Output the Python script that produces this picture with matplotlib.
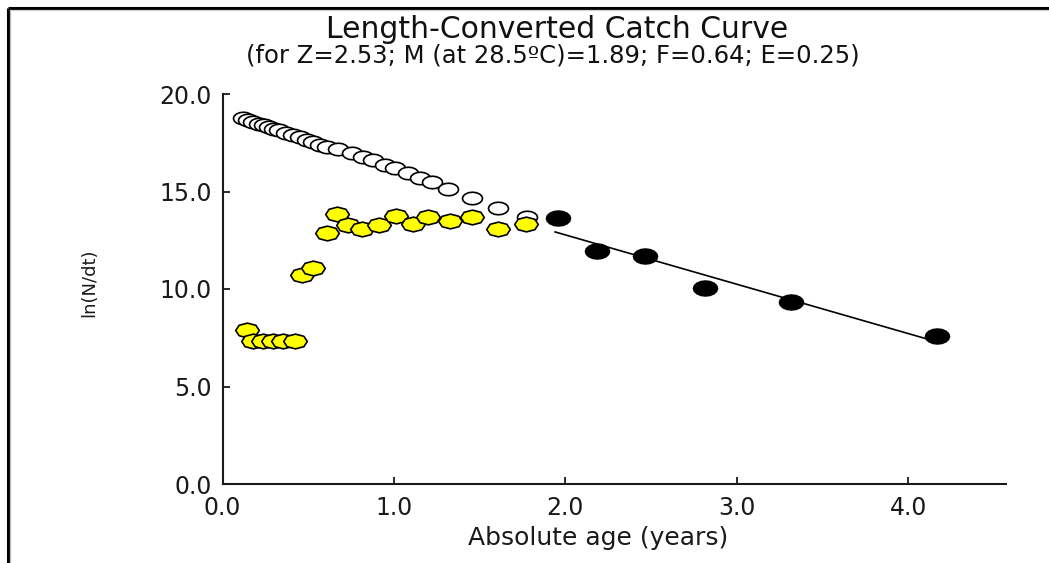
import numpy as np
import matplotlib as mplt
mplt.use("Agg")
import matplotlib.pyplot as plt
from matplotlib.path import Path
from matplotlib.lines import Line2D

# ages (years) and ln(N/dt) per length class
age_open = [0.12, 0.15, 0.18, 0.21, 0.24, 0.27, 0.30, 0.33, 0.37, 0.41,
            0.45, 0.49, 0.53, 0.57, 0.61, 0.675, 0.753, 0.821, 0.879, 0.948,
            1.006, 1.084, 1.152, 1.224, 1.317, 1.453, 1.608, 1.774]
ln_open = [18.75, 18.66, 18.57, 18.48, 18.40, 18.31, 18.22, 18.13, 18.01, 17.89,
           17.77, 17.65, 17.53, 17.41, 17.30, 17.16, 16.96, 16.79, 16.62, 16.36,
           16.19, 15.93, 15.68, 15.47, 15.11, 14.68, 14.14, 13.68]

age_unused = [0.141, 0.180, 0.238, 0.296, 0.355, 0.423, 0.462, 0.530, 0.607, 0.666,
              0.734, 0.811, 0.914, 1.012, 1.109, 1.200, 1.327, 1.453, 1.605, 1.770]
ln_unused = [7.90, 7.35, 7.35, 7.35, 7.35, 7.35, 10.72, 11.06, 12.89, 13.85,
             13.28, 13.06, 13.28, 13.74, 13.32, 13.68, 13.49, 13.71, 13.06, 13.32]

age_used = [1.955, 2.183, 2.466, 2.817, 3.318, 4.168]
ln_used = [13.64, 11.96, 11.70, 10.03, 9.32, 7.58]

# regression parameters
Z = 2.53
M = 1.89
F = 0.64
E = 0.25
temp = 28.5
fit_range = [1.94, 4.12]

xticks = [0.0, 1.0, 2.0, 3.0, 4.0]
yticks = [0.0, 5.0, 10.0, 15.0, 20.0]


def oval(n, sx=1.6, rot=0.0):
    # flattened polygon marker, wider than tall
    t = np.linspace(0, 2 * np.pi, n + 1) + rot
    verts = np.column_stack([sx * np.cos(t), np.sin(t)])
    return Path(verts, closed=True)


def plot_graph():
    fig = plt.figure(figsize=(10.49, 5.63), dpi=100)
    ax = fig.add_axes([222.5 / 1049, 1 - 484 / 563, 783.5 / 1049, 390 / 563])

    ax.set_xlim(0, 4.57)
    ax.set_ylim(0, 20)

    # expected values (open circles)
    ax.plot(age_open, ln_open, linestyle="none", marker=oval(16), markersize=14.5,
            markerfacecolor="white", markeredgecolor="black", markeredgewidth=1.2,
            zorder=3)
    # points left out of the regression
    ax.plot(age_unused, ln_unused, linestyle="none", marker=oval(8), markersize=17,
            markerfacecolor="#ffff00", markeredgecolor="black", markeredgewidth=1.2,
            zorder=4)

    # regression line with slope -Z through the centre of the used points
    xm = np.mean(fit_range)
    ym = np.mean(ln_used) + Z * (np.mean(age_used) - xm)
    xf = np.array(fit_range)
    ax.plot(xf, ym - Z * (xf - xm), color="black", linewidth=1.2, zorder=5)

    # points used in the regression
    ax.plot(age_used, ln_used, linestyle="none", marker=oval(16), markersize=17.5,
            markerfacecolor="black", markeredgecolor="black", markeredgewidth=1.0,
            zorder=6)

    for side in ["top", "right"]:
        ax.spines[side].set_visible(False)
    for side in ["left", "bottom"]:
        ax.spines[side].set_linewidth(1.5)
        ax.spines[side].set_color("#1a1a1a")

    ax.set_xticks(xticks)
    ax.set_xticklabels(["%.1f" % v for v in xticks])
    ax.set_yticks(yticks)
    ax.set_yticklabels(["%.1f" % v for v in yticks])
    ax.tick_params(axis="both", direction="in", length=5, width=1.3,
                   colors="#1a1a1a", labelsize=17)
    ax.tick_params(axis="x", pad=8.5)
    ax.tick_params(axis="y", pad=7.5)

    ax.set_xlabel("Absolute age (years)", fontsize=18, color="#1a1a1a", va="top")
    ax.xaxis.set_label_coords((598 - 222.5) / 783.5, (484 - 526) / 390)
    ax.set_ylabel("ln(N/dt)", fontsize=13, color="#1a1a1a", va="center")
    ax.yaxis.set_label_coords((89 - 222.5) / 783.5, (484 - 283) / 390)

    fig.text(557 / 1049, 1 - 30 / 563, "Length-Converted Catch Curve",
             fontsize=21.5, ha="center", va="center", color="#111111")
    fig.text(553 / 1049, 1 - 56 / 563,
             "(for Z=%.2f; M (at %.1fºC)=%.2f; F=%.2f; E=%.2f)" % (Z, temp, M, F, E),
             fontsize=17.5, ha="center", va="center", color="#111111")

    # window frame on the left and top edges
    fig.add_artist(Line2D([7.5 / 1049, 7.5 / 1049], [0, 1 - 7.5 / 563],
                          color="black", linewidth=2.2, solid_capstyle="butt"))
    fig.add_artist(Line2D([7.5 / 1049, 1], [1 - 7.5 / 563, 1 - 7.5 / 563],
                          color="black", linewidth=2.2, solid_capstyle="butt"))
    fig.add_artist(Line2D([10 / 1049, 10 / 1049], [0, 1 - 10 / 563],
                          color="#b8b8b8", linewidth=0.9, solid_capstyle="butt"))
    fig.add_artist(Line2D([10 / 1049, 1], [1 - 10 / 563, 1 - 10 / 563],
                          color="#d0d0d0", linewidth=0.9, solid_capstyle="butt"))

    fig.savefig("out.png", dpi=100)


if __name__ == "__main__":
    plot_graph()
